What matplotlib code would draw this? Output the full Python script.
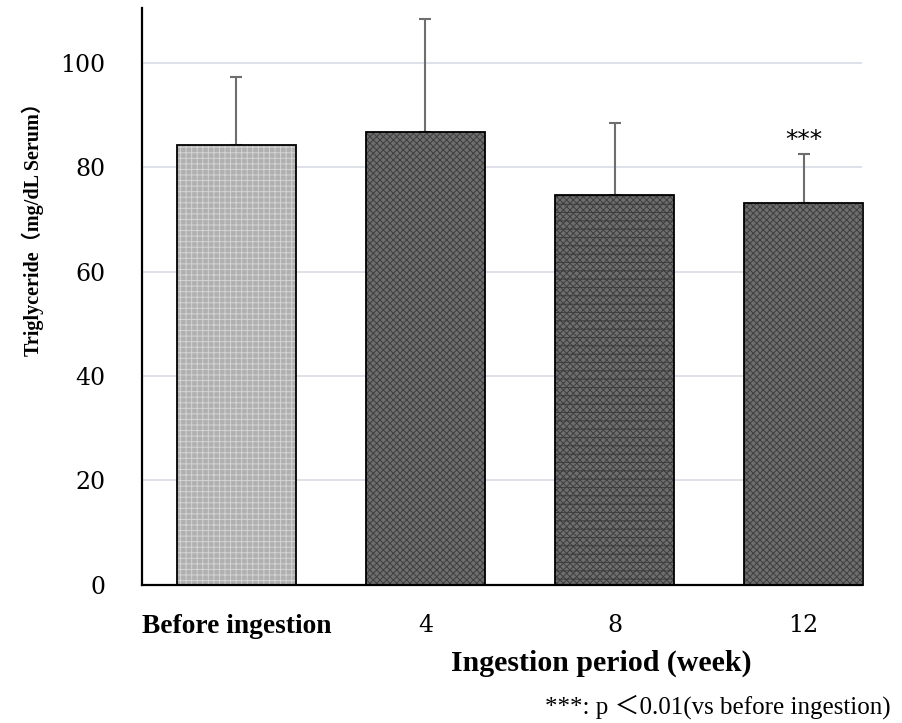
import numpy as np
import matplotlib
matplotlib.use("Agg")
from matplotlib import pyplot as plt

plt.rcParams["hatch.linewidth"] = 0.7

# triglyceride means and upper SD per period
periods = ["Before ingestion", "4", "8", "12"]
means = [84.3, 86.8, 74.7, 73.2]
sds = [13.0, 21.6, 13.7, 9.3]
marks = ["", "", "", "***"]

# fill, hatch colour and hatch style for each bar
fills = ["#b0b0b0", "#6e6e6e", "#6e6e6e", "#6e6e6e"]
hatch_colors = ["#d4d4d4", "#3e3e3e", "#3e3e3e", "#3e3e3e"]
hatches = ["+++", "xxxxx", "xxxxx--", "xxxxx"]

serif = ["Liberation Serif", "Noto Sans CJK JP"]
num_font = "DejaVu Serif"

fig = plt.figure(figsize=(9.03, 7.23), dpi=100)
ax = fig.add_axes([0.157, 0.191, 0.798, 0.798])

x = np.arange(len(periods))
width = 0.63

ax.errorbar(x, means, yerr=[np.zeros(len(sds)), sds], fmt="none",
            ecolor="#6e6e6e", elinewidth=1.5, capsize=4, capthick=1.5, zorder=2)
ax.bar(x, means, width=width, color=fills, linewidth=0, zorder=3)
for xi, m, hc, h in zip(x, means, hatch_colors, hatches):
    ax.bar(xi, m, width=width, facecolor="none", edgecolor=hc, hatch=h,
           linewidth=0, zorder=4)
ax.bar(x, means, width=width, fill=False, edgecolor="black", linewidth=1.3,
       zorder=5, clip_on=False)

for xi, m, s, t in zip(x, means, sds, marks):
    if t:
        ax.text(xi, m + s + 0.4, t, ha="center", va="bottom", fontsize=18,
                family="DejaVu Sans")

ax.set_xlim(-0.5, 3.31)
ax.set_ylim(0, 110.5)
ax.set_yticks([0, 20, 40, 60, 80, 100])
ax.set_yticklabels(["0", "20", "40", "60", "80", "100"], family=num_font, fontsize=17)
ax.set_xticks(x)
ax.set_xticklabels(periods, family=num_font, fontsize=17)
first = ax.get_xticklabels()[0]
first.set_family(serif)
first.set_fontweight("bold")
first.set_fontsize(19.8)
ax.tick_params(length=0)
ax.tick_params(axis="x", pad=21)
ax.tick_params(axis="y", pad=26)

ax.yaxis.grid(True, color="#d9dce6", linewidth=1.2)
ax.set_axisbelow(True)
for side in ["top", "right"]:
    ax.spines[side].set_visible(False)
for side in ["left", "bottom"]:
    ax.spines[side].set_linewidth(1.6)
    ax.spines[side].set_zorder(6)

fig.text(0.036, 0.69, "Triglyceride（mg/dL Serum）", family=serif, fontweight="bold",
         fontsize=14.5, rotation=90, ha="center", va="center")
fig.text(0.666, 0.083, "Ingestion period (week)", family=serif, fontweight="bold",
         fontsize=21.5, ha="center", va="center")
fig.text(0.986, 0.023, "***: p ＜0.01(vs before ingestion)", family=serif,
         fontsize=18, ha="right", va="center")

fig.savefig("out.png", dpi=100)
